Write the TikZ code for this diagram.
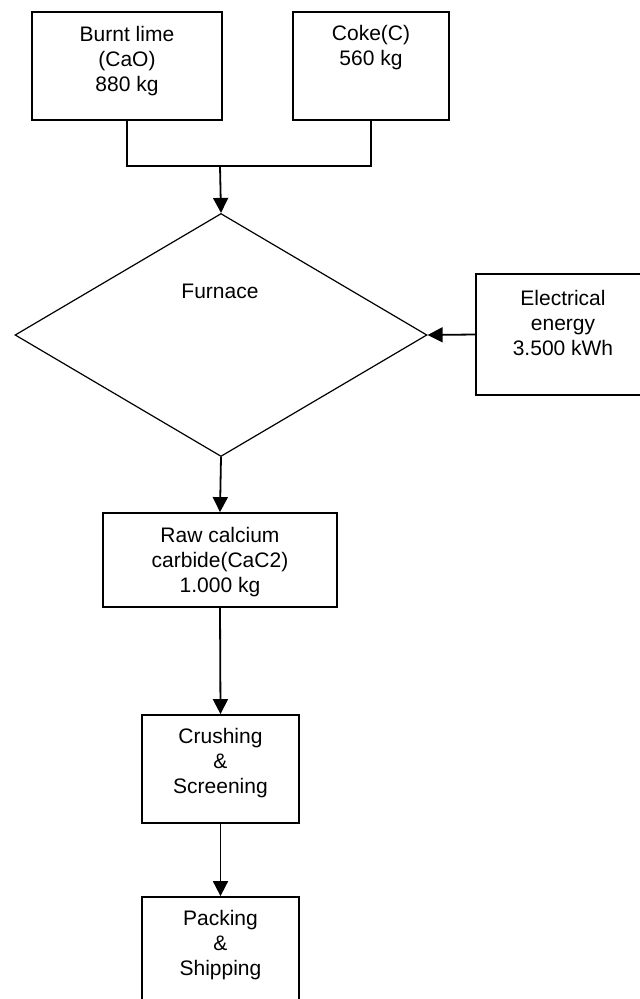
\documentclass[tikz,border=0pt]{standalone}
\usepackage{fontspec}
\setmainfont{Liberation Sans}
\usetikzlibrary{arrows.meta,shapes.geometric}
\begin{document}
\begin{tikzpicture}[x=1pt,y=-1pt,
  box/.style={draw,line width=1.8pt,rectangle,inner sep=0pt},
  lbl/.style={align=center,font=\fontsize{21}{25}\selectfont,inner sep=0pt},
  arr/.style={line width=1.8pt,-{Triangle[width=15pt,length=15pt]}},
  conn/.style={line width=1.8pt}]
\useasboundingbox (0,0) rectangle (640,999);
\node[box,minimum width=190pt,minimum height=108pt] (lime) at (127,66) {};
\node[lbl] (limet) at (127,61) {Burnt lime\\(CaO)\\880 kg};
\node[box,minimum width=156pt,minimum height=108pt] (coke) at (371,66) {};
\node[lbl] (coket) at (371,48) {Coke(C)\\560 kg};
\coordinate (j) at (220,166);
\node[draw,diamond,line width=1.2pt,inner sep=0pt,minimum width=412pt,minimum height=243pt] (furn) at (221,335) {};
\node[lbl] (furnt) at (220,291) {Furnace};
\node[box,minimum width=174pt,minimum height=121pt] (elec) at (563,334.5) {};
\node[lbl] (elect) at (563,322.5) {Electrical\\energy\\3.500 kWh};
\node[box,minimum width=234pt,minimum height=94pt] (raw) at (220,560) {};
\node[lbl] (rawt) at (220,562) {Raw calcium\\carbide(CaC2)\\1.000 kg};
\node[box,minimum width=157pt,minimum height=108pt] (crush) at (220.5,769) {};
\node[lbl] (crusht) at (220.5,763.5) {Crushing\\\&\\Screening};
\node[box,minimum width=157pt,minimum height=108pt] (pack) at (220.5,951) {};
\node[lbl] (packt) at (220.5,945) {Packing\\\&\\Shipping};
\draw[conn] (lime.south) |- (j) -| (coke.south);
\draw[arr] (j) -- (furn.north);
\draw[arr] (elec.west) -- (furn.east);
\draw[arr] (furn.south) -- (raw.north);
\draw[arr] (raw.south) -- (crush.north);
\draw[arr] (crush.south) -- (pack.north);
\end{tikzpicture}
\end{document}
